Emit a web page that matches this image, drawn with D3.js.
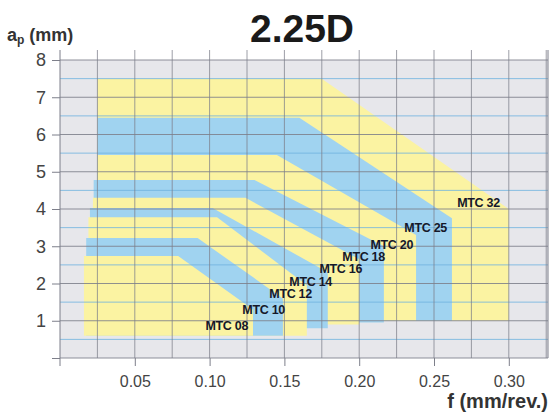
<!DOCTYPE html>
<html><head><meta charset="utf-8">
<script src="https://cdn.jsdelivr.net/npm/d3@7"></script>
<style>
html,body{margin:0;padding:0;background:#fff;}
svg{display:block;font-family:"Liberation Sans",Arial,Helvetica,sans-serif;}
</style></head>
<body><svg id="c" width="553" height="415"></svg>
<script>
// ---- data ----
const sizes    = ["MTC 32","MTC 25","MTC 20","MTC 18","MTC 16","MTC 14","MTC 12","MTC 10","MTC 08"];
const fMin     = [0.025, 0.025, 0.025, 0.0225, 0.022, 0.020, 0.019, 0.0175, 0.016];
const apMin    = [1.0, 1.0, 1.0, 0.95, 0.9, 0.8, 0.6, 0.6, 0.6];
const apMax    = [7.5, 6.45, 5.45, 4.78, 4.3, 4.03, 3.78, 3.22, 2.74];
const fKnee    = [0.175, 0.160, 0.145, 0.130, 0.124, 0.102, 0.105, 0.092, 0.079];
const fMax     = [0.300, 0.262, 0.238, 0.2165, 0.200, 0.179, 0.165, 0.149, 0.129];
const apCorner = [4.0, 3.75, 3.3, 3.0, 2.65, 2.3, 1.95, 1.6, 1.3];
const labelF   = [0.294, 0.2587, 0.236, 0.2172, 0.2019, 0.1818, 0.1684, 0.1504, 0.1257];
const labelAp  = [4.05, 3.38, 2.93, 2.6, 2.28, 1.93, 1.61, 1.18, 0.75];
const xTicks   = [0.05, 0.10, 0.15, 0.20, 0.25, 0.30];
const xMinor   = [0.025, 0.075, 0.125, 0.175, 0.225, 0.275, 0.325];
const yTicks   = [1, 2, 3, 4, 5, 6, 7, 8];
const yHalf    = [0.5, 1.5, 2.5, 3.5, 4.5, 5.5, 6.5, 7.5];
const title    = "2.25D";

const svg = d3.select("#c");
const x = d3.scaleLinear().domain([0, 0.3262]).range([60, 548]);
const y = d3.scaleLinear().domain([0, 8]).range([358, 60]);
const YEL = "#fbf3a2", BLU = "#a0d3f0";

// plot background
svg.append("rect").attr("x", x(0)).attr("y", y(8))
  .attr("width", x(0.3262) - x(0)).attr("height", y(0) - y(8)).attr("fill", "#e7e7eb");

// regions (outermost first)
const regions = sizes.map((s, i) => ({
  name: s, color: i % 2 === 0 ? YEL : BLU,
  pts: [[fMin[i], apMin[i]], [fMin[i], apMax[i]], [fKnee[i], apMax[i]],
        [fMax[i], apCorner[i]], [fMax[i], apMin[i]]]
}));
const line = d3.line().x(d => x(d[0])).y(d => y(d[1]));
svg.append("g").selectAll("path").data(regions).join("path")
  .attr("d", d => line(d.pts) + "Z").attr("fill", d => d.color);

// grid
const g = svg.append("g");
g.selectAll(".h").data(yHalf).join("line")
  .attr("x1", x(0)).attr("x2", 548).attr("y1", d => y(d)).attr("y2", d => y(d))
  .attr("stroke", "#6fb3e0").attr("stroke-width", 1).attr("opacity", 0.8);
g.selectAll(".v").data(xMinor.concat(xTicks)).join("line")
  .attr("x1", d => x(d)).attr("x2", d => x(d)).attr("y1", 50).attr("y2", y(0))
  .attr("stroke", "#7d7f8a").attr("stroke-width", 1).attr("opacity", 0.75);
g.selectAll(".i").data([0].concat(yTicks)).join("line")
  .attr("x1", x(0)).attr("x2", 548).attr("y1", d => y(d)).attr("y2", d => y(d))
  .attr("stroke", "#7d7f8a").attr("stroke-width", 1).attr("opacity", 0.85);
g.append("line").attr("x1", x(0)).attr("x2", x(0)).attr("y1", 50).attr("y2", 366)
  .attr("stroke", "#7d7f8a");
g.append("line").attr("x1", 548).attr("x2", 548).attr("y1", 50).attr("y2", y(0))
  .attr("stroke", "#7d7f8a");

// axes
const ax = svg.append("g").attr("transform", `translate(0,${y(0)})`)
  .call(d3.axisBottom(x).tickValues(xTicks).tickSize(8).tickPadding(10).tickFormat(d3.format(".2f")));
const ay = svg.append("g").attr("transform", `translate(${x(0)},0)`)
  .call(d3.axisLeft(y).tickValues([0].concat(yTicks)).tickSize(8).tickPadding(6).tickFormat(d => d === 0 ? "" : d));
[ax, ay].forEach(a => {
  a.select(".domain").remove();
  a.selectAll(".tick line").attr("stroke", "#7d7f8a");
  a.selectAll(".tick text").attr("fill", "#444").attr("font-family", "'Liberation Sans',Arial,sans-serif");
});
ax.selectAll(".tick text").attr("font-size", 16);
ay.selectAll(".tick text").attr("font-size", 18);

// region labels
svg.append("g").selectAll("text").data(sizes).join("text")
  .attr("x", (d, i) => x(labelF[i])).attr("y", (d, i) => y(labelAp[i]))
  .attr("text-anchor", "end").attr("font-size", 12.5).attr("font-weight", "bold")
  .attr("letter-spacing", "-0.3").attr("fill", "#15182a").text(d => d);

// titles
svg.append("text").attr("x", 302).attr("y", 42).attr("text-anchor", "middle")
  .attr("font-size", 39).attr("font-weight", "bold").attr("fill", "#1a1a1a").text(title);
const at = svg.append("text").attr("x", 7).attr("y", 41).attr("font-size", 18)
  .attr("font-weight", "bold").attr("fill", "#333");
at.append("tspan").text("a");
at.append("tspan").attr("font-size", 12).attr("dy", 3).text("p");
at.append("tspan").attr("dy", -3).text(" (mm)");
svg.append("text").attr("x", 548).attr("y", 408).attr("text-anchor", "end")
  .attr("font-size", 20).attr("font-weight", "bold").attr("fill", "#333").text("f (mm/rev.)");
</script></body></html>
